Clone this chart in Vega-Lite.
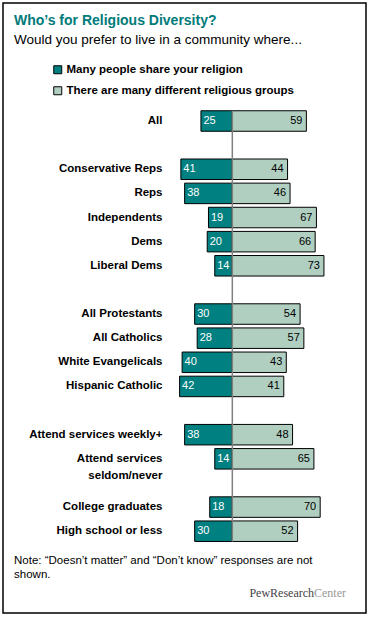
{
  "$schema": "https://vega.github.io/schema/vega-lite/v6.json",
  "width": 363,
  "height": 610,
  "autosize": {"type": "none"},
  "padding": {"left": 3, "top": 3, "right": 4, "bottom": 5},
  "background": "white",
  "config": {
    "view": {"stroke": "#000000", "strokeWidth": 1.5},
    "font": "Liberation Sans",
    "axisY": {"domain": false, "ticks": false, "grid": false, "labelPadding": 0, "labelFont": "Liberation Sans", "labelFontSize": 11.5, "labelFontWeight": "bold", "labelColor": "#000000", "labelLineHeight": 17, "title": null}
  },
  "title": {
    "text": "Who’s for Religious Diversity?",
    "subtitle": "Would you prefer to live in a community where...",
    "anchor": "start",
    "frame": "group",
    "orient": "top",
    "offset": -43,
    "dx": 11,
    "font": "Liberation Sans",
    "fontSize": 14,
    "fontWeight": "bold",
    "color": "#007a7a",
    "subtitleFont": "Liberation Sans",
    "subtitleFontSize": 13.5,
    "subtitleColor": "#000000",
    "subtitlePadding": 5
  },
  "datasets": {
    "survey": [
      {"group": "All", "response": "Many people share your religion", "value": 25},
      {"group": "All", "response": "There are many different religious groups", "value": 59},
      {"group": "Conservative Reps", "response": "Many people share your religion", "value": 41},
      {"group": "Conservative Reps", "response": "There are many different religious groups", "value": 44},
      {"group": "Reps", "response": "Many people share your religion", "value": 38},
      {"group": "Reps", "response": "There are many different religious groups", "value": 46},
      {"group": "Independents", "response": "Many people share your religion", "value": 19},
      {"group": "Independents", "response": "There are many different religious groups", "value": 67},
      {"group": "Dems", "response": "Many people share your religion", "value": 20},
      {"group": "Dems", "response": "There are many different religious groups", "value": 66},
      {"group": "Liberal Dems", "response": "Many people share your religion", "value": 14},
      {"group": "Liberal Dems", "response": "There are many different religious groups", "value": 73},
      {"group": "All Protestants", "response": "Many people share your religion", "value": 30},
      {"group": "All Protestants", "response": "There are many different religious groups", "value": 54},
      {"group": "All Catholics", "response": "Many people share your religion", "value": 28},
      {"group": "All Catholics", "response": "There are many different religious groups", "value": 57},
      {"group": "White Evangelicals", "response": "Many people share your religion", "value": 40},
      {"group": "White Evangelicals", "response": "There are many different religious groups", "value": 43},
      {"group": "Hispanic Catholic", "response": "Many people share your religion", "value": 42},
      {"group": "Hispanic Catholic", "response": "There are many different religious groups", "value": 41},
      {"group": "Attend services weekly+", "response": "Many people share your religion", "value": 38},
      {"group": "Attend services weekly+", "response": "There are many different religious groups", "value": 48},
      {"group": "Attend services seldom/never", "response": "Many people share your religion", "value": 14},
      {"group": "Attend services seldom/never", "response": "There are many different religious groups", "value": 65},
      {"group": "College graduates", "response": "Many people share your religion", "value": 18},
      {"group": "College graduates", "response": "There are many different religious groups", "value": 70},
      {"group": "High school or less", "response": "Many people share your religion", "value": 30},
      {"group": "High school or less", "response": "There are many different religious groups", "value": 52}
    ],
    "note": [{"text": "Note: “Doesn’t matter” and “Don’t know” responses are not\nshown."}],
    "credit1": [{"text": "PewResearch"}],
    "credit2": [{"text": "Center"}],
    "centre": [{"label": "zero"}]
  },
  "layer": [
    {
      "data": {"name": "survey"},
      "transform": [{"filter": "datum.response == 'Many people share your religion'"}],
      "layer": [
        {
          "mark": {"type": "bar", "stroke": "#000000", "strokeWidth": 1},
          "encoding": {
            "y": {"field": "group", "type": "nominal",
              "scale": {"domain": ["All", "_b1", "Conservative Reps", "Reps", "Independents", "Dems", "Liberal Dems", "_b2", "All Protestants", "All Catholics", "White Evangelicals", "Hispanic Catholic", "_b3", "Attend services weekly+", "Attend services seldom/never", "_b4", "College graduates", "High school or less", "_n1", "_n2", "_n3"], "range": [107.75, 610.85], "paddingInner": 0.15, "paddingOuter": 0},
              "axis": {"offset": -159, "labelExpr": "indexof(datum.value, '_') == 0 ? '' : (datum.value == 'Attend services seldom/never' ? ['Attend services', 'seldom/never'] : datum.value)"}},
            "x": {"field": "value", "type": "quantitative", "scale": {"domain": [-106.5, 182.7], "reverse": true, "nice": false, "zero": false}, "axis": null},
            "x2": {"datum": 0},
            "color": {"field": "response", "type": "nominal",
              "scale": {"domain": ["Many people share your religion", "There are many different religious groups"], "range": ["#008080", "#b0cfc0"]},
              "legend": {"title": null, "orient": "none", "legendX": 49, "legendY": 61, "symbolType": "square", "symbolSize": 64, "symbolStrokeColor": "#000000", "symbolStrokeWidth": 1, "symbolOpacity": 1, "labelFont": "Liberation Sans", "labelFontSize": 11.5, "labelFontWeight": "bold", "labelColor": "#000000", "labelOffset": 3, "rowPadding": 8, "labelLimit": 400}}
          }
        },
        {
          "mark": {"type": "text", "align": "left", "baseline": "middle", "dx": 2.5, "color": "#ffffff", "font": "Liberation Sans", "fontSize": 11},
          "encoding": {
            "y": {"field": "group", "type": "nominal",
              "scale": {"domain": ["All", "_b1", "Conservative Reps", "Reps", "Independents", "Dems", "Liberal Dems", "_b2", "All Protestants", "All Catholics", "White Evangelicals", "Hispanic Catholic", "_b3", "Attend services weekly+", "Attend services seldom/never", "_b4", "College graduates", "High school or less", "_n1", "_n2", "_n3"], "range": [107.75, 610.85], "paddingInner": 0.15, "paddingOuter": 0}},
            "x": {"field": "value", "type": "quantitative", "scale": {"domain": [-106.5, 182.7], "reverse": true, "nice": false, "zero": false}, "axis": null},
            "text": {"field": "value", "type": "quantitative"}
          }
        }
      ]
    },
    {
      "layer": [
        {
          "data": {"name": "survey"},
          "transform": [{"filter": "datum.response == 'There are many different religious groups'"}],
          "mark": {"type": "bar", "stroke": "#000000", "strokeWidth": 1},
          "encoding": {
            "y": {"field": "group", "type": "nominal",
              "scale": {"domain": ["All", "_b1", "Conservative Reps", "Reps", "Independents", "Dems", "Liberal Dems", "_b2", "All Protestants", "All Catholics", "White Evangelicals", "Hispanic Catholic", "_b3", "Attend services weekly+", "Attend services seldom/never", "_b4", "College graduates", "High school or less", "_n1", "_n2", "_n3"], "range": [107.75, 610.85], "paddingInner": 0.15, "paddingOuter": 0}},
            "x": {"field": "value", "type": "quantitative", "scale": {"domain": [-182.7, 106.5], "nice": false, "zero": false}, "axis": null},
            "x2": {"datum": 0},
            "color": {"field": "response", "type": "nominal",
              "scale": {"domain": ["Many people share your religion", "There are many different religious groups"], "range": ["#008080", "#b0cfc0"]}}
          }
        },
        {
          "data": {"name": "survey"},
          "transform": [{"filter": "datum.response == 'There are many different religious groups'"}],
          "mark": {"type": "text", "align": "right", "baseline": "middle", "dx": -4, "color": "#000000", "font": "Liberation Sans", "fontSize": 11},
          "encoding": {
            "y": {"field": "group", "type": "nominal",
              "scale": {"domain": ["All", "_b1", "Conservative Reps", "Reps", "Independents", "Dems", "Liberal Dems", "_b2", "All Protestants", "All Catholics", "White Evangelicals", "Hispanic Catholic", "_b3", "Attend services weekly+", "Attend services seldom/never", "_b4", "College graduates", "High school or less", "_n1", "_n2", "_n3"], "range": [107.75, 610.85], "paddingInner": 0.15, "paddingOuter": 0}},
            "x": {"field": "value", "type": "quantitative", "scale": {"domain": [-182.7, 106.5], "nice": false, "zero": false}, "axis": null},
            "text": {"field": "value", "type": "quantitative"}
          }
        },
        {
          "data": {"name": "centre"},
          "mark": {"type": "rule", "color": "#808080", "strokeWidth": 1.5},
          "encoding": {
            "x": {"datum": 0, "type": "quantitative", "scale": {"domain": [-182.7, 106.5], "nice": false, "zero": false}, "axis": null},
            "y": {"datum": "All", "type": "nominal", "bandPosition": 0,
              "scale": {"domain": ["All", "_b1", "Conservative Reps", "Reps", "Independents", "Dems", "Liberal Dems", "_b2", "All Protestants", "All Catholics", "White Evangelicals", "Hispanic Catholic", "_b3", "Attend services weekly+", "Attend services seldom/never", "_b4", "College graduates", "High school or less", "_n1", "_n2", "_n3"], "range": [107.75, 610.85], "paddingInner": 0.15, "paddingOuter": 0}},
            "y2": {"datum": "High school or less", "bandPosition": 1}
          }
        },
        {
          "data": {"name": "note"},
          "mark": {"type": "text", "align": "left", "baseline": "middle", "dy": 6, "lineBreak": "\n", "lineHeight": 14, "color": "#000000", "font": "Liberation Sans", "fontSize": 11.5},
          "encoding": {
            "x": {"datum": -173.9, "type": "quantitative", "scale": {"domain": [-182.7, 106.5], "nice": false, "zero": false}, "axis": null},
            "y": {"datum": "_n1", "type": "nominal",
              "scale": {"domain": ["All", "_b1", "Conservative Reps", "Reps", "Independents", "Dems", "Liberal Dems", "_b2", "All Protestants", "All Catholics", "White Evangelicals", "Hispanic Catholic", "_b3", "Attend services weekly+", "Attend services seldom/never", "_b4", "College graduates", "High school or less", "_n1", "_n2", "_n3"], "range": [107.75, 610.85], "paddingInner": 0.15, "paddingOuter": 0}},
            "text": {"field": "text", "type": "nominal"}
          }
        },
        {
          "data": {"name": "credit1"},
          "mark": {"type": "text", "align": "right", "baseline": "middle", "dy": 13.5, "color": "#444444", "font": "Liberation Serif", "fontSize": 12},
          "encoding": {
            "x": {"datum": 65.1, "type": "quantitative", "scale": {"domain": [-182.7, 106.5], "nice": false, "zero": false}, "axis": null},
            "y": {"datum": "_n2", "type": "nominal",
              "scale": {"domain": ["All", "_b1", "Conservative Reps", "Reps", "Independents", "Dems", "Liberal Dems", "_b2", "All Protestants", "All Catholics", "White Evangelicals", "Hispanic Catholic", "_b3", "Attend services weekly+", "Attend services seldom/never", "_b4", "College graduates", "High school or less", "_n1", "_n2", "_n3"], "range": [107.75, 610.85], "paddingInner": 0.15, "paddingOuter": 0}},
            "text": {"field": "text", "type": "nominal"}
          }
        },
        {
          "data": {"name": "credit2"},
          "mark": {"type": "text", "align": "left", "baseline": "middle", "dy": 13.5, "color": "#999999", "font": "Liberation Serif", "fontSize": 12},
          "encoding": {
            "x": {"datum": 65.1, "type": "quantitative", "scale": {"domain": [-182.7, 106.5], "nice": false, "zero": false}, "axis": null},
            "y": {"datum": "_n2", "type": "nominal",
              "scale": {"domain": ["All", "_b1", "Conservative Reps", "Reps", "Independents", "Dems", "Liberal Dems", "_b2", "All Protestants", "All Catholics", "White Evangelicals", "Hispanic Catholic", "_b3", "Attend services weekly+", "Attend services seldom/never", "_b4", "College graduates", "High school or less", "_n1", "_n2", "_n3"], "range": [107.75, 610.85], "paddingInner": 0.15, "paddingOuter": 0}},
            "text": {"field": "text", "type": "nominal"}
          }
        }
      ]
    }
  ],
  "resolve": {"scale": {"x": "independent"}}
}
